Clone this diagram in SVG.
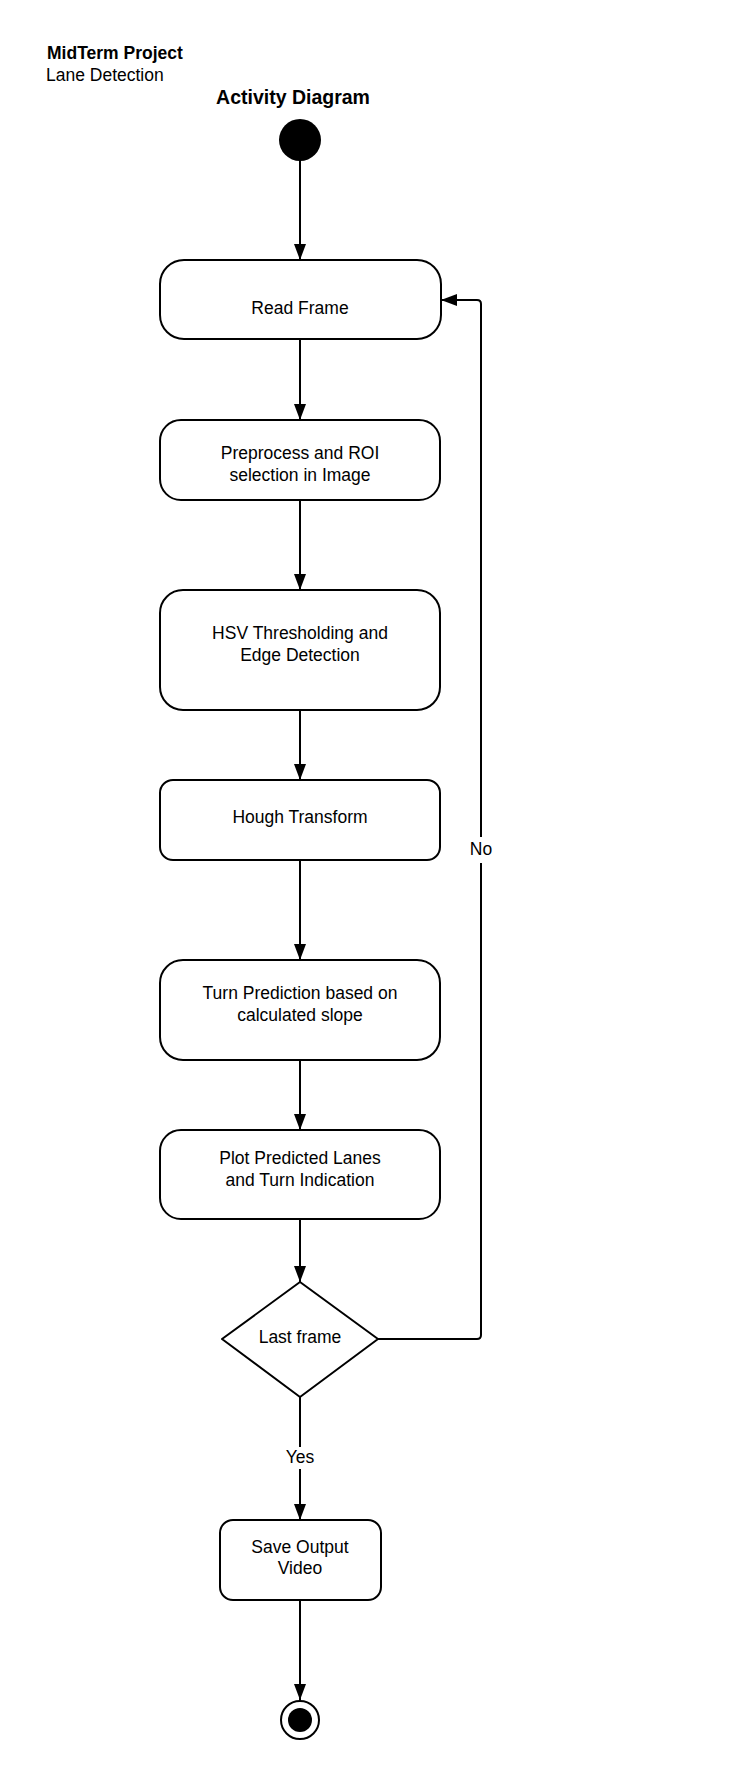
<svg xmlns="http://www.w3.org/2000/svg" width="730" height="1780" viewBox="0 0 730 1780">
<defs>
<style>
.t{font-family:"Liberation Sans",Arial,sans-serif;font-size:17.5px;fill:#000;text-anchor:middle}
.b{font-weight:bold}
.n{fill:#fff;stroke:#000;stroke-width:2}
.c{fill:none;stroke:#000;stroke-width:2}
</style>
<marker id="ah" viewBox="0 0 16 12" refX="16" refY="6" markerWidth="16" markerHeight="12" markerUnits="userSpaceOnUse" orient="auto">
<path d="M0,0 L16,6 L0,12 Z" fill="#000"/>
</marker>
</defs>
<rect width="730" height="1780" fill="#fff"/>
<g id="header">
<text class="t b" x="47" y="59" style="text-anchor:start">MidTerm Project</text>
<text class="t" x="46" y="81" style="text-anchor:start">Lane Detection</text>
<text class="t b" x="293" y="104" style="font-size:19.5px">Activity Diagram</text>
</g>
<g id="connectors">
<line class="c" x1="300" y1="161" x2="300" y2="260" marker-end="url(#ah)"/>
<line class="c" x1="300" y1="339" x2="300" y2="420" marker-end="url(#ah)"/>
<line class="c" x1="300" y1="500" x2="300" y2="590" marker-end="url(#ah)"/>
<line class="c" x1="300" y1="710" x2="300" y2="780" marker-end="url(#ah)"/>
<line class="c" x1="300" y1="860" x2="300" y2="960" marker-end="url(#ah)"/>
<line class="c" x1="300" y1="1060" x2="300" y2="1130" marker-end="url(#ah)"/>
<line class="c" x1="300" y1="1219" x2="300" y2="1282" marker-end="url(#ah)"/>
<line class="c" x1="300" y1="1397" x2="300" y2="1520" marker-end="url(#ah)"/>
<line class="c" x1="300" y1="1600" x2="300" y2="1700" marker-end="url(#ah)"/>
<path class="c" d="M378,1339 H477 Q481,1339 481,1335 V304 Q481,300 477,300 H441" marker-end="url(#ah)"/>
<rect x="284" y="1447" width="32" height="22" fill="#fff"/>
<text class="t" x="300" y="1463">Yes</text>
<rect x="468" y="837" width="26" height="26" fill="#fff"/>
<text class="t" x="481" y="855">No</text>
</g>
<g id="start">
<circle cx="300" cy="140" r="21" fill="#000"/>
</g>
<g id="read-frame">
<rect class="n" x="160" y="260" width="281" height="79" rx="24"/>
<text class="t" x="300" y="314">Read Frame</text>
</g>
<g id="preprocess">
<rect class="n" x="160" y="420" width="280" height="80" rx="21"/>
<text class="t" x="300" y="459">Preprocess and ROI</text>
<text class="t" x="300" y="481">selection in Image</text>
</g>
<g id="hsv">
<rect class="n" x="160" y="590" width="280" height="120" rx="23"/>
<text class="t" x="300" y="639">HSV Thresholding and</text>
<text class="t" x="300" y="661">Edge Detection</text>
</g>
<g id="hough">
<rect class="n" x="160" y="780" width="280" height="80" rx="13"/>
<text class="t" x="300" y="823">Hough Transform</text>
</g>
<g id="turn">
<rect class="n" x="160" y="960" width="280" height="100" rx="23"/>
<text class="t" x="300" y="999">Turn Prediction based on</text>
<text class="t" x="300" y="1021">calculated slope</text>
</g>
<g id="plot">
<rect class="n" x="160" y="1130" width="280" height="89" rx="21"/>
<text class="t" x="300" y="1164">Plot Predicted Lanes</text>
<text class="t" x="300" y="1186">and Turn Indication</text>
</g>
<g id="decision">
<path class="n" d="M300,1282 L378,1339 L300,1397 L222,1339 Z" stroke-linejoin="round"/>
<text class="t" x="300" y="1343">Last frame</text>
</g>
<g id="save">
<rect class="n" x="220" y="1520" width="161" height="80" rx="13"/>
<text class="t" x="300" y="1553">Save Output</text>
<text class="t" x="300" y="1574">Video</text>
</g>
<g id="end">
<circle cx="300" cy="1720" r="19" fill="#fff" stroke="#000" stroke-width="2"/>
<circle cx="300" cy="1720" r="12" fill="#000"/>
</g>
</svg>
